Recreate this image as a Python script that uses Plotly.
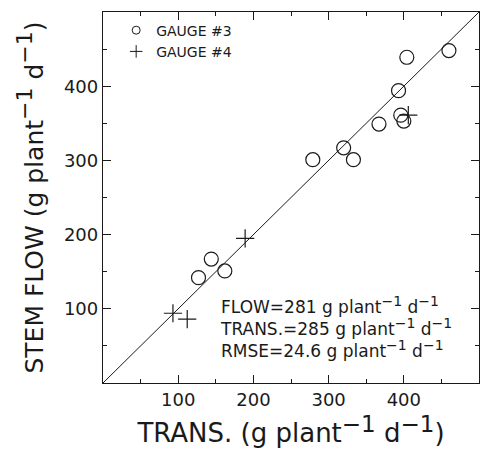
import plotly.graph_objects as go

# Gauge #3 (open circles)
g3_trans = [127, 144, 162, 279, 320, 333, 367, 393, 396, 400, 404, 460]
g3_flow = [142, 167, 151, 301, 317, 301, 349, 394, 361, 353, 439, 448]
# Gauge #4 (plus signs)
g4_trans = [93, 112, 189, 406]
g4_flow = [94, 86, 195, 361]

one_to_one = [0, 500]
axis_range = [0, 500]
tick_vals = [100, 200, 300, 400]

mean_flow = 281
mean_trans = 285
rmse = 24.6

FONT = "DejaVu Sans"
INK = "#1a1a1a"

fig = go.Figure()
fig.add_trace(go.Scatter(x=one_to_one, y=one_to_one, mode="lines",
                         line=dict(color=INK, width=1), showlegend=False,
                         hoverinfo="skip"))
fig.add_trace(go.Scatter(x=g3_trans, y=g3_flow, mode="markers", showlegend=False,
                         marker=dict(symbol="circle-open", size=14,
                                     color=INK, line=dict(width=1.2, color=INK))))
fig.add_trace(go.Scatter(x=g4_trans, y=g4_flow, mode="markers", showlegend=False,
                         marker=dict(symbol="cross-thin-open", size=13,
                                     color=INK, line=dict(width=1.2, color=INK))))
# legend entries
fig.add_trace(go.Scatter(x=[None], y=[None], mode="markers", name="GAUGE #3",
                         marker=dict(symbol="circle-open", size=8, color=INK,
                                     line=dict(width=1, color=INK))))
fig.add_trace(go.Scatter(x=[None], y=[None], mode="markers", name="GAUGE #4",
                         marker=dict(symbol="cross-thin-open", size=9, color=INK,
                                     line=dict(width=1, color=INK))))
# invisible trace to anchor the mirrored frame axes
fig.add_trace(go.Scatter(x=[None], y=[None], xaxis="x2", yaxis="y2",
                         showlegend=False, hoverinfo="skip"))


def unit(sup_px):
    sup = f"<sup><span style='font-size:{sup_px}px'>\u22121</span></sup>"
    return f"g plant{sup} d{sup}"


fig.add_annotation(
    xref="paper", yref="paper", x=(218 - 103) / 376, y=(383 - 327) / 371,
    showarrow=False, xanchor="left", yanchor="middle", align="left",
    text=(f"FLOW={mean_flow} {unit(14)}<br>TRANS.={mean_trans} {unit(14)}"
          f"<br>RMSE={rmse} {unit(14)}"),
    font=dict(family=FONT, size=17, color=INK),
)

minor = dict(dtick=50, tick0=0, ticks="inside", ticklen=4, tickcolor=INK, tickwidth=1)
axis_common = dict(
    range=axis_range, tickvals=tick_vals, ticks="inside", ticklen=8, tickwidth=1,
    tickcolor=INK, showline=True, linecolor=INK, linewidth=1.3,
    showgrid=False, zeroline=False,
    tickfont=dict(family=FONT, size=18, color=INK),
    minor=minor,
)
frame_axis = dict(range=axis_range, tickvals=tick_vals, ticks="inside", ticklen=8,
                  tickwidth=1, tickcolor=INK, showline=True, linecolor=INK,
                  linewidth=1.3, showgrid=False, zeroline=False,
                  showticklabels=False, minor=minor)

fig.update_layout(
    xaxis=dict(**axis_common,
               title=dict(text=f"TRANS. ({unit(23)})", standoff=15,
                          font=dict(family=FONT, size=26, color=INK))),
    yaxis=dict(**axis_common,
               title=dict(text=f"STEM FLOW ({unit(22)})", standoff=13,
                          font=dict(family=FONT, size=25, color=INK))),
    xaxis2=dict(**frame_axis, overlaying="x", side="top", anchor="y2"),
    yaxis2=dict(**frame_axis, overlaying="y", side="right", anchor="x2"),
    width=481, height=461,
    margin=dict(l=103, r=2, t=12, b=78, autoexpand=False),
    paper_bgcolor="white", plot_bgcolor="white",
    legend=dict(x=0.035, y=0.993, xanchor="left", yanchor="top",
                font=dict(family=FONT, size=14, color=INK),
                bgcolor="rgba(0,0,0,0)", itemwidth=30),
    showlegend=True,
)

fig.write_html("out.html",
               config={"displayModeBar": False},
               post_script="document.body.style.margin='0px';"
                           "document.body.style.overflow='hidden';")
